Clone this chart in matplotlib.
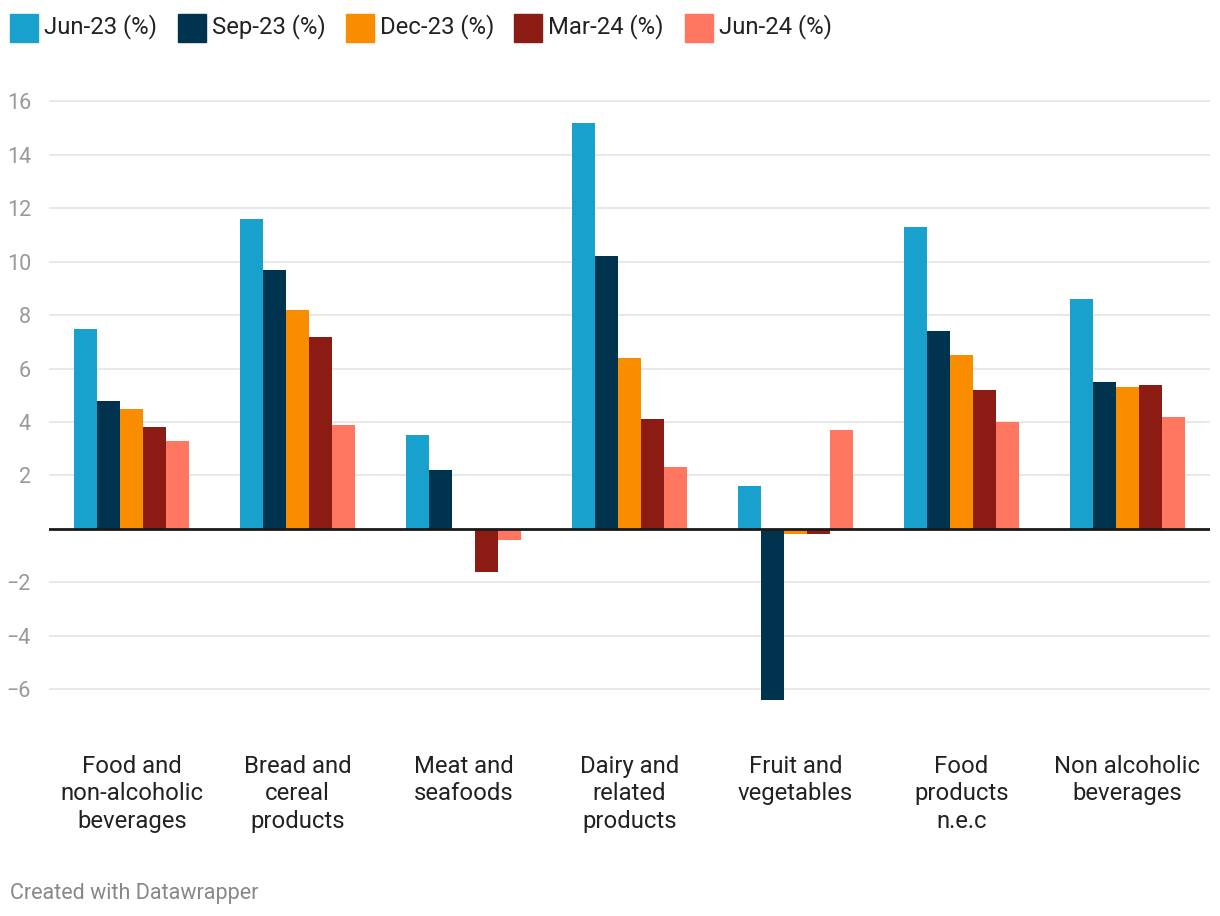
import matplotlib
matplotlib.use("Agg")
import matplotlib.pyplot as plt
from matplotlib.patches import Rectangle
import numpy as np

categories = ["Food and\nnon-alcoholic\nbeverages", "Bread and\ncereal\nproducts",
              "Meat and\nseafoods", "Dairy and\nrelated\nproducts",
              "Fruit and\nvegetables", "Food\nproducts\nn.e.c", "Non alcoholic\nbeverages"]
series_names = ["Jun-23 (%)", "Sep-23 (%)", "Dec-23 (%)", "Mar-24 (%)", "Jun-24 (%)"]
jun23 = [7.5, 11.6, 3.5, 15.2, 1.6, 11.3, 8.6]
sep23 = [4.8, 9.7, 2.2, 10.2, -6.4, 7.4, 5.5]
dec23 = [4.5, 8.2, 0.0, 6.4, -0.2, 6.5, 5.3]
mar24 = [3.8, 7.2, -1.6, 4.1, -0.2, 5.2, 5.4]
jun24 = [3.3, 3.9, -0.4, 2.3, 3.7, 4.0, 4.2]
yticks = [-6, -4, -2, 2, 4, 6, 8, 10, 12, 14, 16]
ytick_labels = ["\u22126", "\u22124", "\u22122", "2", "4", "6", "8", "10", "12", "14", "16"]

colors = ["#18a1cd", "#00344e", "#fa8c00", "#8c1c13", "#ff7760"]
series = [jun23, sep23, dec23, mar24, jun24]

plt.rcParams['font.family'] = ['Roboto', 'DejaVu Sans']

fig = plt.figure(figsize=(12.2, 9.16), dpi=100)
ax = fig.add_axes([49/1220, (916-716)/916, 1161/1220, 628/916])

x = np.arange(len(categories))
w = 23/166
for i, (vals, c) in enumerate(zip(series, colors)):
    ax.bar(x + (i - 2) * w, vals, width=w, color=c, linewidth=0, zorder=2)

ax.set_xlim(-0.5, len(categories) - 0.5)
ax.set_ylim(-7, 16.5)
ax.set_yticks(yticks)
ax.set_yticklabels(ytick_labels)
ax.grid(axis='y', color='#e6e6e6', linewidth=1.3, zorder=0)
ax.axhline(0, color='#1a1a1a', linewidth=2, zorder=3)
for s in ax.spines.values():
    s.set_visible(False)
ax.tick_params(axis='y', length=0, pad=13, labelsize=15.5, labelcolor='#999999')
ax.tick_params(axis='x', length=0, pad=0)
ax.set_xticks(x)
ax.set_xticklabels([])
for xi, lab in zip(x, categories):
    ax.text(xi, -8.45, lab, ha='center', va='top', fontsize=17.2, color='#222222',
            linespacing=1.25, transform=ax.transData)
for lab in ax.get_yticklabels():
    lab.set_horizontalalignment('right')

# legend
leg_x = [10, 178, 346, 514, 685]
for lx, name, c in zip(leg_x, series_names, colors):
    fig.patches.append(Rectangle((lx/1220, 1 - 42/916), 28/1220, 28/916,
                                 transform=fig.transFigure, color=c, figure=fig))
    fig.text((lx + 34)/1220, 1 - 27/916, name, ha='left', va='center',
             fontsize=17.2, color='#222222')

fig.text(10/1220, 1 - 893/916, "Created with Datawrapper", ha='left', va='center',
         fontsize=15.5, color='#888888')

fig.savefig("out.png", dpi=100, facecolor='white')
